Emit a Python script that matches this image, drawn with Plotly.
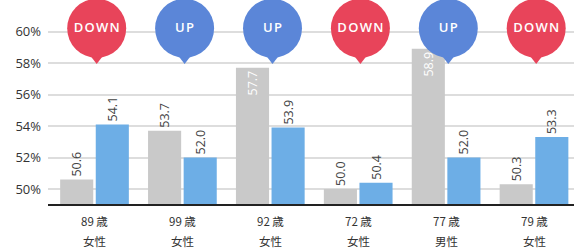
import plotly.graph_objects as go

ages = ["89 歳", "99 歳", "92 歳", "72 歳", "77 歳", "79 歳"]
sexes = ["女性", "女性", "女性", "女性", "男性", "女性"]
before_vals = [50.6, 53.7, 57.7, 50.0, 58.9, 50.3]
after_vals = [54.1, 52.0, 53.9, 50.4, 52.0, 53.3]
trend = ["DOWN", "UP", "UP", "DOWN", "UP", "DOWN"]
y_ticks = [50, 52, 54, 56, 58, 60]

PIN_Y = 60.2
TIP_Y = 58.35
pin_colors = {"DOWN": "#E8445A", "UP": "#5B86D8"}

xs = list(range(len(ages)))

fig = go.Figure()

def label_pos(v):
    return "inside" if v > 57 else "outside"

fig.add_trace(go.Bar(
    x=xs, y=before_vals,
    marker=dict(color="#C9C9C9", line=dict(width=0)),
    text=[f"{v:.1f}" for v in before_vals],
    textposition=[label_pos(v) for v in before_vals],
    insidetextanchor="end",
    textangle=-90,
    insidetextfont=dict(color="white", size=12.5),
    outsidetextfont=dict(color="#444", size=12.5),
    cliponaxis=False,
    showlegend=False,
))
fig.add_trace(go.Bar(
    x=xs, y=after_vals,
    marker=dict(color="#6DAEE6", line=dict(width=0)),
    text=[f"{v:.1f}" for v in after_vals],
    textposition="outside",
    textangle=-90,
    outsidetextfont=dict(color="#444", size=12.5),
    cliponaxis=False,
    showlegend=False,
))

pin_x = [x + 0.025 for x in xs]
cols = [pin_colors[t] for t in trend]
fig.add_trace(go.Scatter(
    x=pin_x, y=[TIP_Y] * len(xs), mode="markers",
    marker=dict(symbol="triangle-down", size=13, color=cols, line=dict(width=0)),
    cliponaxis=False, showlegend=False, hoverinfo="skip",
))
fig.add_trace(go.Scatter(
    x=pin_x, y=[PIN_Y] * len(xs), mode="markers+text",
    marker=dict(symbol="circle", size=59, color=cols, line=dict(width=0)),
    text=["\u200a".join(t) for t in trend], textposition="middle center",
    textfont=dict(color="white", size=13, family="Open Sans", weight=600),
    cliponaxis=False, showlegend=False, hoverinfo="skip",
))

for i in xs:
    fig.add_annotation(x=i, y=-0.085, xref="x", yref="paper", text=ages[i],
                       showarrow=False, yanchor="middle",
                       font=dict(size=11.5, color="#333", family="Noto Sans CJK JP"))
    fig.add_annotation(x=i, y=-0.18, xref="x", yref="paper", text=sexes[i],
                       showarrow=False, yanchor="middle",
                       font=dict(size=11.5, color="#333", family="Noto Sans CJK JP"))

fig.update_layout(
    width=574, height=250,
    margin=dict(l=48, r=0, t=0, b=46),
    paper_bgcolor="white", plot_bgcolor="white",
    barmode="group", bargap=0.19, bargroupgap=0.07,
    font=dict(family="Open Sans, Noto Sans CJK JP", color="#333"),
    xaxis=dict(
        range=[-0.529, 5.455], automargin=False,
        showticklabels=False,
        showgrid=False, zeroline=False,
        showline=True, linecolor="#222", linewidth=2,
        ticks="",
    ),
    yaxis=dict(
        range=[49.05, 62], automargin=False,
        tickmode="array", tickvals=y_ticks,
        ticktext=[f"{t}%" for t in y_ticks],
        showgrid=True, gridcolor="#DDDDDD", gridwidth=1.5,
        zeroline=False, showline=False, ticks="",
        tickfont=dict(size=13, color="#333"),
        ticklabelstandoff=6,
    ),
)

fig.write_html(
    "out.html",
    config={"displayModeBar": False},
    post_script="document.body.style.margin='0';document.body.style.overflow='hidden';",
)
